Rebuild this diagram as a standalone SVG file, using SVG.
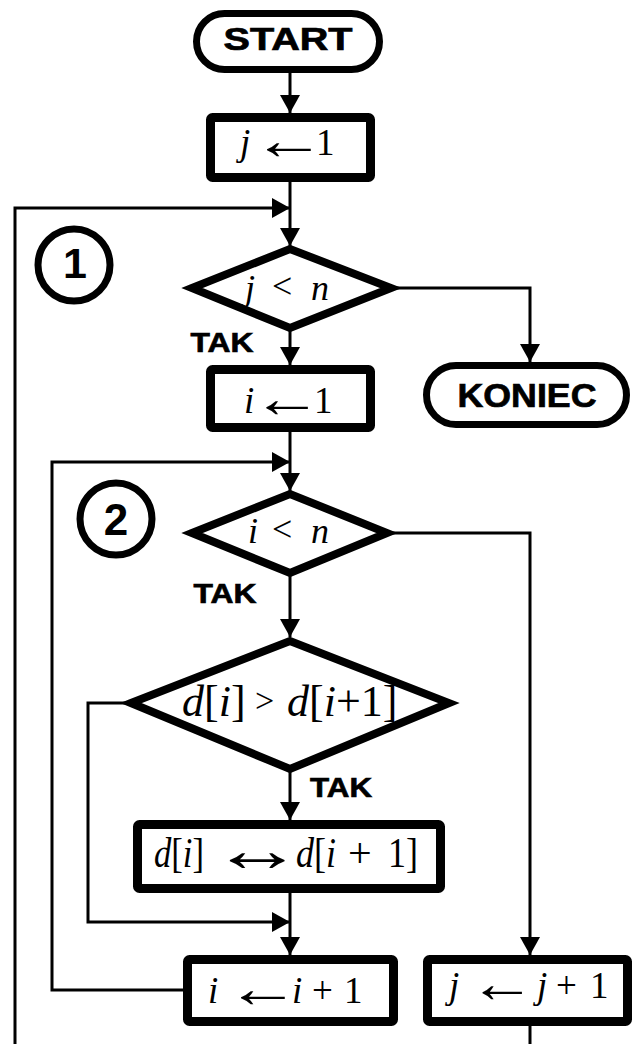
<svg xmlns="http://www.w3.org/2000/svg" width="634" height="1044" viewBox="0 0 634 1044">
  <style>
    .term { fill: #fff; stroke: #000; stroke-width: 7; }
    .box { fill: #fff; stroke: #000; stroke-width: 9; }
    .dec { fill: #fff; stroke: #000; stroke-width: 8; stroke-linejoin: miter; }
    .ring { fill: #fff; stroke: #000; stroke-width: 7; }
    .wire { fill: none; stroke: #000; stroke-width: 3; }
    .bold { font-family: "Liberation Sans", Arial, sans-serif; font-weight: bold; fill: #000; text-anchor: middle; }
    .heavy { stroke: #000; stroke-width: 0.7; }
    .m { font-family: "Liberation Serif", "Times New Roman", serif; fill: #000; }
    .v { font-style: italic; }
  </style>
  <defs>
    <marker id="head" markerUnits="userSpaceOnUse" markerWidth="18" markerHeight="20" refX="18" refY="10" orient="auto">
      <path d="M0,0 L18,10 L0,20 Z" fill="#000"/>
    </marker>
  </defs>

  <!-- connectors -->
  <g id="connectors">
    <path class="wire" d="M290,73 V113" marker-end="url(#head)"/>
    <path class="wire" d="M290,182 V246" marker-end="url(#head)"/>
    <!-- outer loop: j <- j+1 back to the first test -->
    <path class="wire" d="M530,1026 V1060"/>
    <path class="wire" d="M15,1060 V208 H290" stroke-width="4" marker-end="url(#head)"/>
    <path class="wire" d="M391,288 H530 V362" marker-end="url(#head)"/>
    <path class="wire" d="M290,328 V365" marker-end="url(#head)"/>
    <path class="wire" d="M290,432 V491" marker-end="url(#head)"/>
    <!-- inner loop: i <- i+1 back to the second test -->
    <path class="wire" d="M183,990 H52 V462 H290" marker-end="url(#head)"/>
    <path class="wire" d="M387,533 H530 V955" marker-end="url(#head)"/>
    <path class="wire" d="M290,573 V637" marker-end="url(#head)"/>
    <path class="wire" d="M290,769 V820" marker-end="url(#head)"/>
    <path class="wire" d="M131,703 H88 V922 H290" stroke-width="4" marker-end="url(#head)"/>
    <path class="wire" d="M290,893 V955" marker-end="url(#head)"/>
  </g>

  <g id="start">
    <rect class="term" x="196.5" y="13.5" width="183" height="56" rx="28"/>
    <text class="bold heavy" x="288" y="50" font-size="31" textLength="129" lengthAdjust="spacingAndGlyphs">START</text>
  </g>

  <g id="init-j" font-size="37">
    <rect class="box" x="210.5" y="117.5" width="160" height="60" rx="2"/>
    <text class="m v" x="240" y="155">j</text>
    <text class="m" transform="translate(252,159) scale(2,1.5)">←</text>
    <text class="m" x="316" y="155">1</text>
  </g>

  <g id="label-1">
    <circle class="ring" cx="74" cy="265" r="36"/>
    <text class="bold" x="75" y="278" font-size="43">1</text>
  </g>

  <g id="test-j" font-size="36">
    <polygon class="dec" points="192,288 290,249 391,288 290,328"/>
    <text class="m v" x="245" y="300">j</text>
    <text class="m" x="272" y="298">&lt;</text>
    <text class="m v" x="311" y="300">n</text>
  </g>

  <text class="bold heavy" x="222" y="352" font-size="28" textLength="63" lengthAdjust="spacingAndGlyphs">TAK</text>

  <g id="end">
    <rect class="term" x="426.5" y="365.5" width="200" height="59" rx="29.5"/>
    <text class="bold heavy" x="527" y="407" font-size="33" textLength="139" lengthAdjust="spacingAndGlyphs">KONIEC</text>
  </g>

  <g id="init-i" font-size="37">
    <rect class="box" x="210.5" y="369.5" width="160" height="58" rx="2"/>
    <text class="m v" x="244" y="413">i</text>
    <text class="m" transform="translate(252,417) scale(1.9,1.5)">←</text>
    <text class="m" x="314" y="413">1</text>
  </g>

  <g id="label-2">
    <circle class="ring" cx="116" cy="519" r="36"/>
    <text class="bold" x="116" y="535" font-size="44">2</text>
  </g>

  <g id="test-i" font-size="36">
    <polygon class="dec" points="192,533 290,494 387,533 290,573"/>
    <text class="m v" x="248" y="543">i</text>
    <text class="m" x="272" y="541">&lt;</text>
    <text class="m v" x="311" y="543">n</text>
  </g>

  <text class="bold heavy" x="225" y="603" font-size="28" textLength="63" lengthAdjust="spacingAndGlyphs">TAK</text>

  <g id="compare" font-size="44">
    <polygon class="dec" points="131,703 290,641 449,703 290,769"/>
    <text class="m" x="182" y="716"><tspan class="v">d</tspan>[<tspan class="v">i</tspan>]</text>
    <text class="m" x="255" y="712" font-size="34">&gt;</text>
    <text class="m" x="287" y="716"><tspan class="v">d</tspan>[<tspan class="v">i</tspan>+1]</text>
  </g>

  <text class="bold heavy" x="341" y="797" font-size="28" textLength="62" lengthAdjust="spacingAndGlyphs">TAK</text>

  <g id="swap" font-size="42">
    <rect class="box" x="137.5" y="824.5" width="303" height="64" rx="2"/>
    <text class="m" x="154" y="867" textLength="50" lengthAdjust="spacingAndGlyphs"><tspan class="v">d</tspan>[<tspan class="v">i</tspan>]</text>
    <text class="m" transform="translate(211,871) scale(2.2,1.5)">↔</text>
    <text class="m" x="296" y="867" textLength="40" lengthAdjust="spacingAndGlyphs"><tspan class="v">d</tspan>[<tspan class="v">i</tspan></text>
    <text class="m" x="348" y="867">+</text>
    <text class="m" x="388" y="867" textLength="30" lengthAdjust="spacingAndGlyphs">1]</text>
  </g>

  <g id="step-i" font-size="37">
    <rect class="box" x="187.5" y="959.5" width="206" height="62" rx="2"/>
    <text class="m v" x="208" y="1003">i</text>
    <text class="m" transform="translate(226,1007) scale(2,1.5)">←</text>
    <text class="m v" x="292" y="1003">i</text>
    <text class="m" x="312" y="1003">+</text>
    <text class="m" x="344" y="1003">1</text>
  </g>

  <g id="step-j" font-size="37">
    <rect class="box" x="427.5" y="959.5" width="200" height="62" rx="2"/>
    <text class="m v" x="449" y="998">j</text>
    <text class="m" transform="translate(469,1002) scale(1.8,1.5)">←</text>
    <text class="m v" x="537" y="998">j</text>
    <text class="m" x="556" y="998">+</text>
    <text class="m" x="590" y="998">1</text>
  </g>
</svg>
